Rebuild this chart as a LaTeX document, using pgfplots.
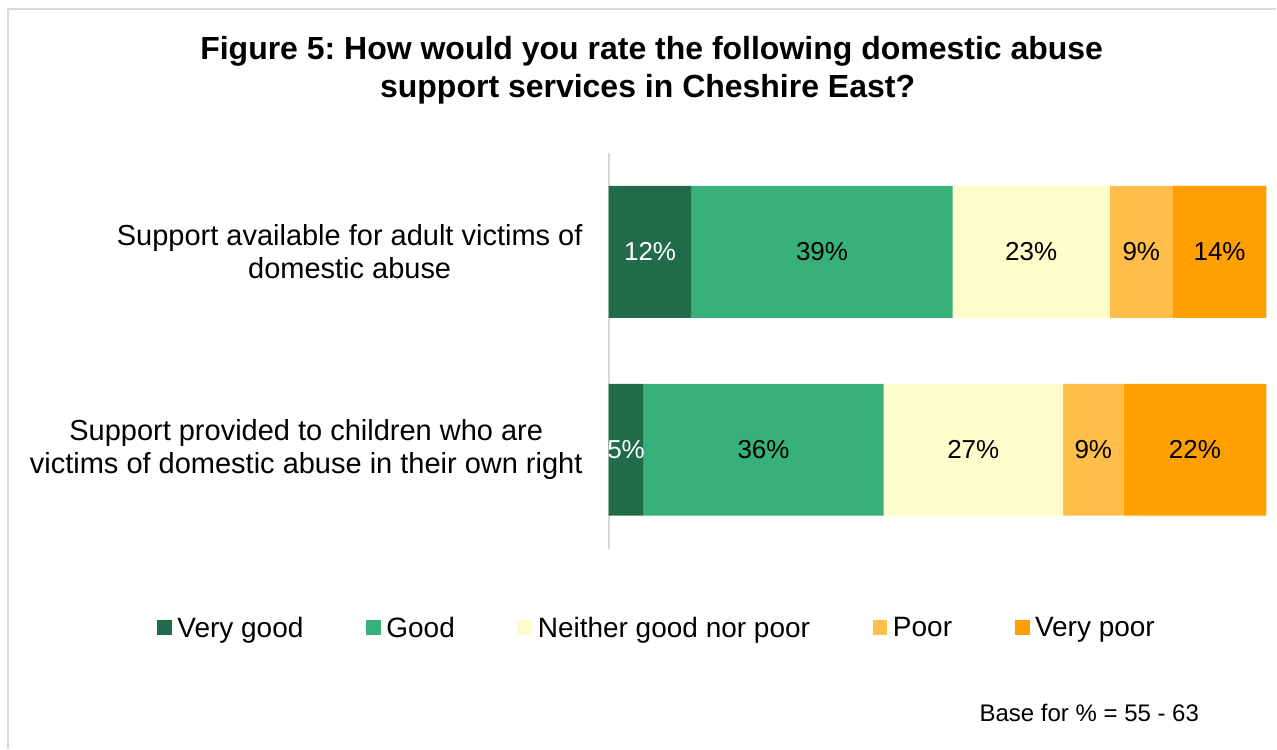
\documentclass[border=0pt]{standalone}
\usepackage{fontspec}
\setmainfont{Liberation Sans}
\usepackage{pgfplots}
\usepackage{pgfplotstable}
\pgfplotsset{compat=1.18}
\frenchspacing
\definecolor{vgood}{RGB}{33,107,74}
\definecolor{good}{RGB}{56,176,122}
\definecolor{neither}{RGB}{255,253,204}
\definecolor{poor}{RGB}{255,190,74}
\definecolor{vpoor}{RGB}{255,160,0}
\definecolor{framec}{RGB}{217,217,217}

\pgfplotstableread{
pos vg g n p vp lvg lg ln lp lvp
1 12.6 39.7 23.9 9.6 14.2 12 39 23 9 14
0 5.3 36.5 27.3 9.2 21.7 5 36 27 9 22
}\datatable

\begin{document}
\begin{tikzpicture}[x=1bp,y=1bp]
\path (0,0) rectangle (1277,749);
\draw[framec, line width=1.5bp] (8,0) -- (8,740) -- (1277,740);
\node[font=\bfseries\fontsize{32bp}{36bp}\selectfont, anchor=base, inner sep=0] at (652,689) {Figure 5: How would you rate the following domestic abuse};
\node[font=\bfseries\fontsize{32bp}{36bp}\selectfont, anchor=base, inner sep=0] at (648,651) {support services in Cheshire East?};
\node[font=\fontsize{24bp}{28bp}\selectfont, anchor=base west, inner sep=0] at (980,27) {Base for \% = 55 - 63};

\begin{axis}[
  at={(609bp,200bp)}, anchor=south west,
  scale only axis, width=658bp, height=396bp,
  xbar stacked, bar width=132bp,
  xmin=0, xmax=100, ymin=-0.5, ymax=1.5,
  hide x axis,
  axis y line*=left,
  y axis line style={-, framec, line width=2bp},
  ytick={0,1},
  yticklabels={{Support provided to children who are\\victims of domestic abuse in their own right},{Support available for adult victims of\\domestic abuse}},
  major tick length=0pt,
  yticklabel style={align=center, font=\fontsize{29bp}{33bp}\selectfont, inner sep=0pt, xshift=-26bp},
  point meta=explicit symbolic,
  nodes near coords={\pgfplotspointmeta\%},
  nodes near coords style={font=\fontsize{26bp}{30bp}\selectfont, anchor=center},
  legend style={at={(0.0745,-0.1995)}, anchor=center, draw=none, fill=none,
    legend columns=5, font=\fontsize{28bp}{31bp}\selectfont,
    /tikz/every even column/.append style={column sep=59bp},
    nodes={inner sep=3.5bp}},
  legend cell align=left,
  legend image code/.code={\fill[#1] (0bp,-7bp) rectangle (15bp,8bp); \path (0bp,0bp) -- (17bp,0bp);},
  clip=false,
]
\addplot[fill=vgood, draw=none, every node near coord/.append style={white}] table[x=vg, y=pos, meta=lvg] {\datatable};
\addlegendentry{Very good}
\addplot[fill=good, draw=none] table[x=g, y=pos, meta=lg] {\datatable};
\addlegendentry{Good}
\addplot[fill=neither, draw=none] table[x=n, y=pos, meta=ln] {\datatable};
\addlegendentry{Neither good nor poor}
\addplot[fill=poor, draw=none] table[x=p, y=pos, meta=lp] {\datatable};
\addlegendentry{Poor}
\addplot[fill=vpoor, draw=none] table[x=vp, y=pos, meta=lvp] {\datatable};
\addlegendentry{Very poor}
\end{axis}
\end{tikzpicture}
\end{document}
